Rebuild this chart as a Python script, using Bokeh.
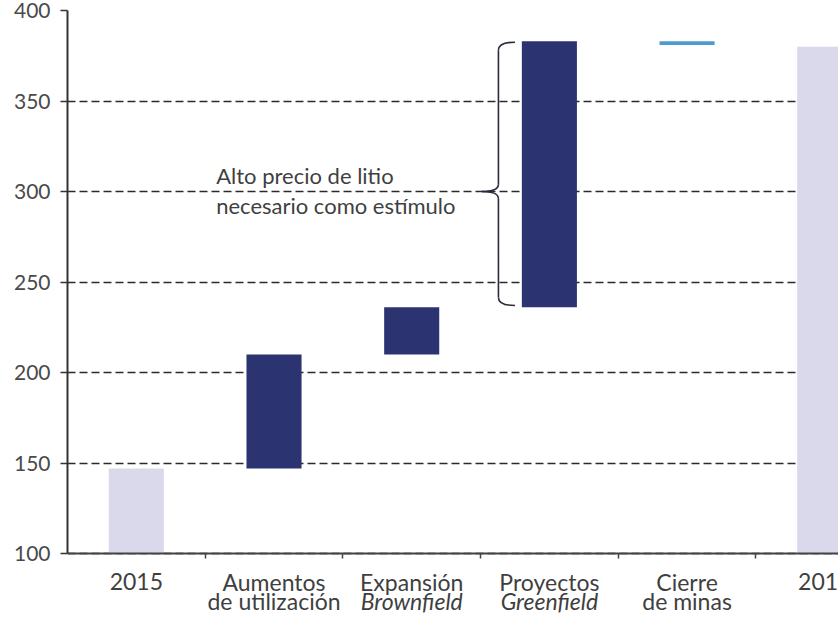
import numpy as np
from bokeh.plotting import figure
from bokeh.models import Range1d, FixedTicker
from bokeh.core.properties import value
from bokeh.embed import file_html
from bokeh.resources import INLINE

# ---------------- data ----------------
categories = ["2015", "Aumentos de utilización", "Expansión Brownfield",
              "Proyectos Greenfield", "Cierre de minas", "2019"]
label_line1 = ["2015", "Aumentos", "Expansión", "Proyectos", "Cierre", "2019"]
label_line2 = ["", "de utilización", "Brownfield", "Greenfield", "de minas", ""]
line2_style = ["normal", "normal", "italic", "italic", "normal", "normal"]
bar_bottom = [0, 147, 210, 236, 381, 0]
bar_top = [147, 210, 236, 383, 383, 380]
bar_kind = ["total", "step", "step", "step", "closure", "total"]
y_ticks = [100, 150, 200, 250, 300, 350, 400]
y_axis_min = 100
y_axis_max = 400
annotation_lines = ["Alto precio de litio", "necesario como estímulo"]
annotation_y = [309, 292]
brace_category = 3
brace_tip_value = 300

# ---------------- style ----------------
kind_color = {"total": "#d9d9eb", "step": "#2b3371", "closure": "#4f9ccc"}
colors = [kind_color[k] for k in bar_kind]
FONT = "Lato"
TEXT = "#3f3f3f"

centers = np.arange(len(categories)) + 0.5

W, H = 838, 617
top_border = 10
px_per_unit = 543 / (y_axis_max - y_axis_min)
frame_h = H - top_border
y_start = y_axis_max - frame_h / px_per_unit

p = figure(width=W, height=H, output_backend="svg", toolbar_location=None,
           x_range=Range1d(0, 5.6), y_range=Range1d(y_start, y_axis_max),
           min_border_left=67, min_border_right=0, min_border_top=top_border,
           min_border_bottom=0)
p.outline_line_color = None
p.background_fill_color = "white"
p.border_fill_color = "white"

# grid
p.xgrid.grid_line_color = None
p.ygrid.grid_line_color = "#2a2a2a"
p.ygrid.grid_line_width = 1.7
p.ygrid.grid_line_dash = "8 4"

# y axis
p.yaxis.ticker = FixedTicker(ticks=y_ticks)
p.yaxis.bounds = (y_axis_min, y_axis_max)
p.yaxis.axis_line_color = "#333333"
p.yaxis.axis_line_width = 2
p.yaxis.major_tick_line_color = "#333333"
p.yaxis.major_tick_line_width = 1.5
p.yaxis.major_tick_out = 7
p.yaxis.major_tick_in = 0
p.yaxis.minor_tick_line_color = None
p.yaxis.major_label_standoff = 10
p.yaxis.major_label_text_font = FONT
p.yaxis.major_label_text_font_size = "21px"
p.yaxis.major_label_text_color = "#4a4a4a"

# x axis placed at y = 100, ticks at category boundaries, no labels
boundaries = list(range(1, len(categories)))
p.xaxis.fixed_location = y_axis_min
p.xaxis.ticker = FixedTicker(ticks=boundaries)
p.xaxis.major_label_overrides = {b: "" for b in boundaries}
p.xaxis.axis_line_color = "#444444"
p.xaxis.axis_line_width = 2
p.xaxis.major_tick_line_color = "#444444"
p.xaxis.major_tick_line_width = 1.5
p.xaxis.major_tick_out = 5
p.xaxis.major_tick_in = 0
p.xaxis.minor_tick_line_color = None

# bars (clipped at the axis)
p.vbar(x=centers, bottom=np.maximum(bar_bottom, y_axis_min), top=bar_top, width=0.4,
       fill_color=colors, line_color=None)

# brace next to the Greenfield bar
c = centers[brace_category]
top = bar_top[brace_category] - 0.5
bot = bar_bottom[brace_category] + 1
arm_x = c - 0.25
spine_x = c - 0.37
tip_x = c - 0.49
r = 4.5
rt = 4.0
bc = "#2a2a3a"
p.quadratic(x0=[arm_x, spine_x, tip_x, spine_x],
            y0=[top, brace_tip_value + rt, brace_tip_value, bot + r],
            x1=[spine_x, tip_x, spine_x, arm_x],
            y1=[top - r, brace_tip_value, brace_tip_value - rt, bot],
            cx=[spine_x, spine_x, spine_x, spine_x],
            cy=[top, brace_tip_value, brace_tip_value, bot],
            line_color=bc, line_width=1.6)
p.segment(x0=[spine_x, spine_x], y0=[top - r, brace_tip_value - rt],
          x1=[spine_x, spine_x], y1=[brace_tip_value + rt, bot + r],
          line_color=bc, line_width=1.6)

# annotation text
p.text(x=[1.08, 1.08], y=annotation_y, text=annotation_lines,
       text_font=value(FONT), text_font_size="22px", text_color=TEXT,
       text_align="left", text_baseline="middle")

# category labels (two lines) below the axis
p.text(x=centers, y=[y_axis_min] * len(centers), text=label_line1,
       y_offset=28, text_font=value(FONT), text_font_size="23px",
       text_color=TEXT, text_align="center", text_baseline="middle")
p.text(x=centers, y=[y_axis_min] * len(centers), text=label_line2,
       y_offset=47, text_font=value(FONT), text_font_size="23px",
       text_font_style=line2_style,
       text_color=TEXT, text_align="center", text_baseline="middle")

open("out.html", "w").write(file_html(p, INLINE))
